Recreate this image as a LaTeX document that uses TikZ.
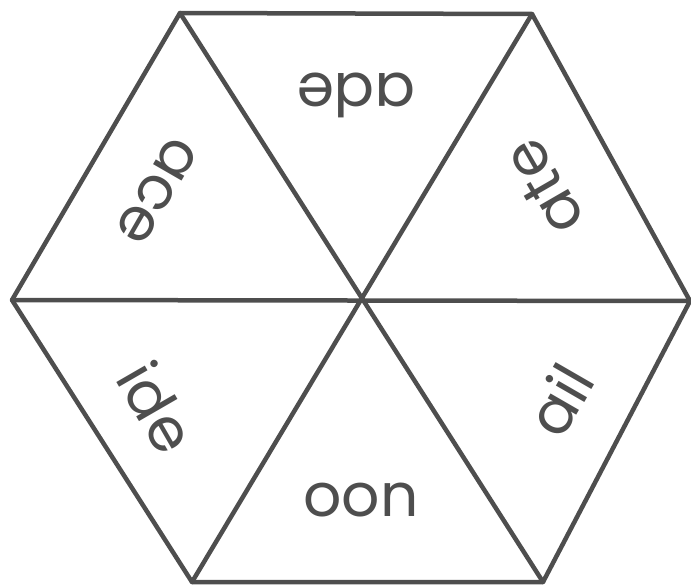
\documentclass[tikz,border=0pt]{standalone}
\usepackage{fontspec}
\setmainfont{Poppins}
\usepackage{tikz}
\usetikzlibrary{calc}
\definecolor{PenGray}{RGB}{78,78,78}

\begin{document}
\begin{tikzpicture}[x=1pt,y=-1pt,every node/.style={font=\fontsize{60}{60}\selectfont}]
\tikzset{edge/.style={draw=PenGray,line width=4.5pt,line join=round,line cap=round},
  syl/.style={text=PenGray,inner sep=0pt,text height=33pt,text depth=0pt}}
\useasboundingbox (0,0) rectangle (691,584);
% corners of the hexagon
\coordinate (l) at (12,300);
\coordinate (tl) at (180,13);
\coordinate (tr) at (532,14);
\coordinate (r) at (690,301);
\coordinate (br) at (543,582);
\coordinate (bl) at (192,582);
\draw[edge] (l)--(tl)--(tr)--(r)--(br)--(bl)--cycle;
\draw[edge] (l)--(r);
\draw[edge] (tl)--(br);
\draw[edge] (tr)--(bl);
% word endings
\node[syl,rotate=180] (ade) at (356,90) {ade};
\node[syl,rotate=240] (ace) at (157,191) {ace};
\node[syl,rotate=120] (ate) at (547,186) {ate};
\node[syl,rotate=-60] (ide) at (152,410) {ide};
\node[syl] (oon) at (361,500) {oon};
\node[syl,rotate=60] (ail) at (565,403) {ail};
\end{tikzpicture}
\end{document}
